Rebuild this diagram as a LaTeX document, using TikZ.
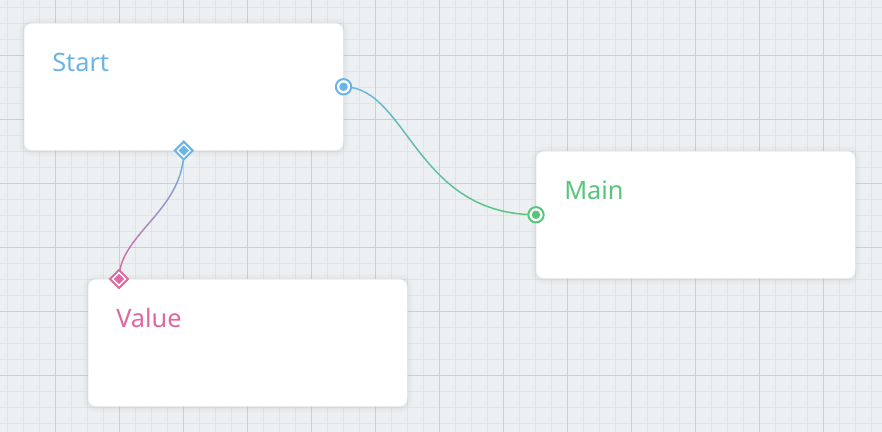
\documentclass[tikz,border=0pt]{standalone}
\usepackage{fontspec}
\setmainfont{Noto Sans}
\usetikzlibrary{shapes.geometric}
\definecolor{canvas}{HTML}{EDF0F3}
\definecolor{gridminor}{HTML}{E0E4E8}
\definecolor{gridmajor}{HTML}{CBCFD4}
\definecolor{cblue}{HTML}{6AB4E6}
\definecolor{cgreen}{HTML}{58C57C}
\definecolor{cpink}{HTML}{E0679F}

\begin{document}
\begin{tikzpicture}[x=0.75pt,y=-0.75pt,
  box/.style={anchor=north west, fill=white, rounded corners=6pt, inner sep=0pt,
    minimum width=239.25pt, minimum height=95.25pt,
    preaction={draw=black, opacity=0.02, line width=8pt, transform canvas={yshift=-0.6pt}},
    preaction={draw=black, opacity=0.02, line width=4pt, transform canvas={yshift=-0.4pt}}},
  title/.style={anchor=base west, inner sep=0pt, font=\fontsize{19}{22}\selectfont},
  port/.style={circle, draw=#1, fill=white, line width=1.5pt, minimum size=11.5pt, inner sep=0pt,
    path picture={\fill[#1] (path picture bounding box.center) circle (3.2pt);}},
  pin/.style={diamond, aspect=1, draw=#1, fill=white, line width=1.5pt, minimum size=14pt, inner sep=0pt,
    path picture={\fill[#1] ([yshift=3.9pt]path picture bounding box.center) -- ++(3.9pt,-3.9pt)
      -- ++(-3.9pt,-3.9pt) -- ++(-3.9pt,3.9pt) -- cycle;}},
  wire/.style={line width=1.1pt, line cap=round}]
\useasboundingbox (0,0) rectangle (882,432);
\fill[canvas] (0,0) rectangle (882,432);
\foreach \gx in {7.7,23.7,...,880} \draw[gridminor, line width=0.75pt] (\gx,0) -- (\gx,432);
\foreach \gy in {7,23,...,430} \draw[gridminor, line width=0.75pt] (0,\gy) -- (882,\gy);
\foreach \gx in {55.7,119.7,...,880} \draw[gridmajor, line width=0.75pt] (\gx,0) -- (\gx,432);
\foreach \gy in {55,119,...,430} \draw[gridmajor, line width=0.75pt] (0,\gy) -- (882,\gy);

\node[box] (start) at (24,23) {};
\node[box] (main) at (536,151) {};
\node[box] (value) at (88,279) {};
\node[title, text=cblue] (tstart) at ([xshift=21pt,yshift=-36pt]start.north west) {Start};
\node[title, text=cgreen] (tmain) at ([xshift=21pt,yshift=-36pt]main.north west) {Main};
\node[title, text=cpink] (tvalue) at ([xshift=21pt,yshift=-36pt]value.north west) {Value};

\coordinate (sp) at (start.east);
\coordinate (mp) at (main.west);
\coordinate (sd) at (start.south);
\coordinate (vd) at ([xshift=23.25pt]value.north west);

\path (sp) .. controls +(64,0) and +(-121,0) .. (mp)
  foreach \k in {0,...,30} {coordinate[pos=\k/30] (a\k)};
\foreach \k [count=\j from 0] in {1,...,30} {
  \pgfmathtruncatemacro\pct{100-100*\k/30}
  \draw[wire, cblue!\pct!cgreen] (a\j) -- (a\k);
}
\path (sd) .. controls +(0,60) and +(0,-45) .. (vd)
  foreach \k in {0,...,30} {coordinate[pos=\k/30] (b\k)};
\foreach \k [count=\j from 0] in {1,...,30} {
  \pgfmathtruncatemacro\pct{100-100*\k/30}
  \draw[wire, cblue!\pct!cpink] (b\j) -- (b\k);
}

\node[port=cblue] (nsp) at (sp) {};
\node[port=cgreen] (nmp) at (mp) {};
\node[pin=cblue] (nsd) at (sd) {};
\node[pin=cpink] (nvd) at (vd) {};
\end{tikzpicture}
\end{document}
